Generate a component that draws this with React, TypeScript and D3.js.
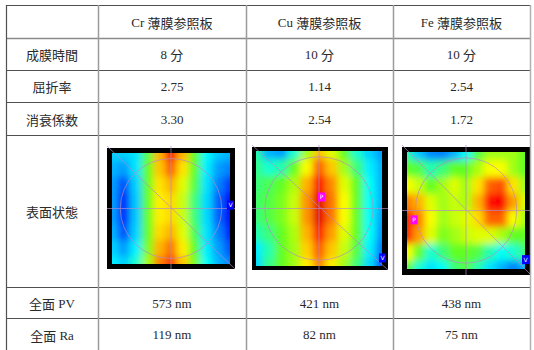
import * as d3 from 'd3';

// 表のデータ
const columnHeaders = ['Cr 薄膜参照板', 'Cu 薄膜参照板', 'Fe 薄膜参照板'];
const rowLabels = ['成膜時間', '屈折率', '消衰係数', '表面状態', '全面 PV', '全面 Ra'];
const filmTimes = ['8 分', '10 分', '10 分'];
const refractiveIdx = ['2.75', '1.14', '2.54'];
const extinction = ['3.30', '2.54', '1.72'];
const pvValues = ['573 nm', '421 nm', '438 nm'];
const raValues = ['119 nm', '82 nm', '75 nm'];

// 表面形状マップ (0 = 青 ... 1 = 赤), 上の行から
const crMap = [
  [0.33, 0.33, 0.35, 0.48, 0.7, 0.88, 0.7, 0.5, 0.37, 0.32, 0.3],
  [0.3, 0.28, 0.35, 0.5, 0.68, 0.78, 0.65, 0.5, 0.36, 0.28, 0.25],
  [0.28, 0.2, 0.33, 0.5, 0.65, 0.7, 0.6, 0.48, 0.35, 0.25, 0.18],
  [0.28, 0.16, 0.32, 0.5, 0.64, 0.66, 0.58, 0.45, 0.34, 0.22, 0.12],
  [0.28, 0.16, 0.32, 0.5, 0.64, 0.66, 0.58, 0.45, 0.34, 0.22, 0.12],
  [0.3, 0.2, 0.33, 0.5, 0.66, 0.7, 0.6, 0.47, 0.35, 0.25, 0.15],
  [0.33, 0.28, 0.36, 0.52, 0.7, 0.76, 0.64, 0.5, 0.36, 0.28, 0.2],
  [0.36, 0.33, 0.4, 0.55, 0.75, 0.82, 0.68, 0.52, 0.38, 0.3, 0.25],
];
const cuMap = [
  [0.42, 0.3, 0.28, 0.4, 0.55, 0.68, 0.6, 0.5, 0.4, 0.33, 0.28],
  [0.44, 0.4, 0.42, 0.5, 0.62, 0.78, 0.68, 0.55, 0.45, 0.36, 0.3],
  [0.45, 0.47, 0.5, 0.56, 0.7, 0.86, 0.74, 0.6, 0.5, 0.38, 0.3],
  [0.46, 0.48, 0.52, 0.58, 0.73, 0.9, 0.76, 0.62, 0.5, 0.38, 0.3],
  [0.45, 0.48, 0.52, 0.58, 0.73, 0.9, 0.76, 0.62, 0.5, 0.38, 0.28],
  [0.42, 0.45, 0.5, 0.56, 0.7, 0.85, 0.72, 0.6, 0.5, 0.38, 0.27],
  [0.36, 0.42, 0.5, 0.55, 0.67, 0.78, 0.68, 0.58, 0.48, 0.36, 0.24],
  [0.34, 0.44, 0.5, 0.55, 0.64, 0.74, 0.64, 0.55, 0.45, 0.34, 0.2],
];
const feMap = [
  [0.42, 0.32, 0.26, 0.25, 0.3, 0.38, 0.48, 0.55, 0.55, 0.55, 0.5],
  [0.5, 0.48, 0.42, 0.45, 0.5, 0.5, 0.56, 0.62, 0.62, 0.55, 0.5],
  [0.62, 0.58, 0.5, 0.55, 0.6, 0.55, 0.65, 0.78, 0.8, 0.65, 0.55],
  [0.75, 0.7, 0.6, 0.55, 0.58, 0.56, 0.7, 0.86, 0.88, 0.72, 0.6],
  [0.85, 0.75, 0.62, 0.55, 0.58, 0.6, 0.66, 0.78, 0.78, 0.62, 0.56],
  [0.85, 0.72, 0.6, 0.52, 0.55, 0.58, 0.6, 0.6, 0.56, 0.5, 0.5],
  [0.62, 0.5, 0.4, 0.45, 0.5, 0.5, 0.48, 0.42, 0.38, 0.4, 0.45],
  [0.5, 0.4, 0.35, 0.38, 0.45, 0.48, 0.42, 0.35, 0.3, 0.25, 0.3],
];
const maps = [crMap, cuMap, feMap];
// マーカー位置 (内側領域に対する比率)
const peakMarks: ([number, number] | null)[] = [null, [0.52, 0.4], [0.06, 0.58]];
const valleyMarks: [number, number][] = [[1.0, 0.47], [1.0, 0.93], [1.0, 0.92]];

// レイアウト
const colEdges = [6, 98, 246, 393, 530];
const rowEdges = [5, 38, 70, 102, 135, 287, 318, 352];
const frames = [
  { x: 107, y: 148, w: 128, h: 121, l: 5, t: 5, r: 5, b: 5 },
  { x: 252, y: 147, w: 136, h: 123, l: 4, t: 4, r: 6, b: 4 },
  { x: 402, y: 147, w: 129, h: 128, l: 5, t: 5, r: 6, b: 6 },
];

const jet = d3
  .scaleLinear<string>()
  .domain([0, 0.125, 0.375, 0.5, 0.625, 0.875, 1])
  .range(['#00008f', '#0000ff', '#00ffff', '#60ff20', '#ffff00', '#ff0000', '#800000'])
  .clamp(true);

const LATIN = 'Liberation Serif';
const CJK = 'Noto Sans CJK JP';
const TEXT = '#2a2a2a';

// ラテン文字と漢字を別々のフォントで描く
function MixedText({ x, y, s }: { x: number; y: number; s: string }) {
  const parts = s.match(/[\u3000-\u9fff]+|[^\u3000-\u9fff]+/g) || [];
  return (
    <text x={x} y={y} textAnchor="middle" dominantBaseline="central" fontSize={13} fill={TEXT}>
      {parts.map((p, i) => (
        <tspan key={i} fontFamily={/[\u3000-\u9fff]/.test(p) ? CJK : LATIN}>
          {p}
        </tspan>
      ))}
    </text>
  );
}

function HeatPanel({ idx }: { idx: number }) {
  const f = frames[idx];
  const grid = maps[idx];
  const ix = f.x + f.l;
  const iy = f.y + f.t;
  const iw = f.w - f.l - f.r;
  const ih = f.h - f.t - f.b;
  const nC = grid[0].length;
  const nR = grid.length;
  const xs = d3.scaleLinear().domain([0, nC - 1]).range([ix, ix + iw]);
  const ys = d3.scaleLinear().domain([0, nR - 1]).range([iy, iy + ih]);
  const sx = iw / (nC - 1);
  const sy = ih / (nR - 1);
  const pad = 20;
  const cx = ix + iw / 2;
  const cy = iy + ih / 2;
  const lineCol = '#b48cc8';
  const p = peakMarks[idx];
  const v = valleyMarks[idx];
  return (
    <g>
      <defs>
        <clipPath id={`clip${idx}`}>
          <rect x={ix} y={iy} width={iw} height={ih} />
        </clipPath>
      </defs>
      <rect x={f.x} y={f.y} width={f.w} height={f.h} fill="#000" />
      <g clipPath={`url(#clip${idx})`}>
        <g filter="url(#soft)">
          {grid.map((row, r) =>
            row.map((val, c) => {
              const x0 = c === 0 ? xs(c) - sx / 2 - pad : xs(c) - sx / 2;
              const x1 = c === nC - 1 ? xs(c) + sx / 2 + pad : xs(c) + sx / 2;
              const y0 = r === 0 ? ys(r) - sy / 2 - pad : ys(r) - sy / 2;
              const y1 = r === nR - 1 ? ys(r) + sy / 2 + pad : ys(r) + sy / 2;
              return (
                <rect
                  key={`${r}-${c}`}
                  x={x0}
                  y={y0}
                  width={x1 - x0 + 0.6}
                  height={y1 - y0 + 0.6}
                  fill={jet(val)}
                />
              );
            })
          )}
        </g>
      </g>
      <g stroke={lineCol} strokeWidth={0.8} fill="none" opacity={0.85}>
        <ellipse cx={cx} cy={cy} rx={iw * 0.43} ry={ih * 0.45} />
        <line x1={f.x} y1={cy} x2={f.x + f.w} y2={cy} />
        <line x1={cx} y1={f.y - 2} x2={cx} y2={f.y + f.h} />
        <line x1={f.x} y1={f.y - 2} x2={f.x + f.w} y2={f.y + f.h} />
      </g>
      {p && (
        <g>
          <rect x={ix + p[0] * iw - 3.5} y={iy + p[1] * ih - 4.5} width={7} height={9} fill="#ff00ff" />
          <text x={ix + p[0] * iw} y={iy + p[1] * ih + 2} fontSize={6} fill="#fff" textAnchor="middle" fontFamily="DejaVu Sans">P</text>
        </g>
      )}
      <g>
        <rect x={ix + v[0] * iw - 3} y={iy + v[1] * ih - 4.5} width={7} height={9} fill="#0000ff" />
        <text x={ix + v[0] * iw + 0.5} y={iy + v[1] * ih + 2} fontSize={6} fill="#fff" textAnchor="middle" fontFamily="DejaVu Sans">V</text>
      </g>
    </g>
  );
}

export default function App() {
  const textRows = [filmTimes, refractiveIdx, extinction, null, pvValues, raValues];
  const rowMid = (i: number) => (rowEdges[i] + rowEdges[i + 1]) / 2;
  const colMid = (i: number) => (colEdges[i] + colEdges[i + 1]) / 2;
  return (
    <div style={{ position: 'fixed', left: 0, top: 0 }}>
      <svg width={534} height={350} style={{ display: 'block', background: '#fff' }}>
        <defs>
          <filter id="soft" x="-20%" y="-20%" width="140%" height="140%">
            <feGaussianBlur stdDeviation={3.5} />
          </filter>
        </defs>

        {frames.map((_, i) => (
          <HeatPanel key={i} idx={i} />
        ))}

        {/* 罫線 */}
        {rowEdges.slice(0, -1).map((y, i) => (
          <line
            key={`h${i}`}
            x1={colEdges[0]}
            x2={colEdges[colEdges.length - 1]}
            y1={y + 0.5}
            y2={y + 0.5}
            stroke={i === 1 ? '#8a8a8a' : '#505050'}
            strokeWidth={i === 1 ? 1.6 : 1}
          />
        ))}
        {colEdges.map((x, i) => (
          <line
            key={`v${i}`}
            x1={x + 0.5}
            x2={x + 0.5}
            y1={rowEdges[0]}
            y2={350}
            stroke={i === 0 ? '#505050' : i === colEdges.length - 1 ? '#b0b0b0' : '#9a9a9a'}
            strokeWidth={i === 0 ? 1.2 : 1.5}
          />
        ))}

        {columnHeaders.map((h, i) => (
          <MixedText key={h} x={colMid(i + 1)} y={rowMid(0)} s={h} />
        ))}
        {rowLabels.map((l, i) => (
          <MixedText key={l} x={colMid(0)} y={rowMid(i + 1)} s={l} />
        ))}
        {textRows.map((vals, r) =>
          vals
            ? vals.map((v, c) => (
                <MixedText key={`${r}-${c}`} x={colMid(c + 1)} y={r === 5 ? 334 : rowMid(r + 1)} s={v} />
              ))
            : null
        )}
      </svg>
    </div>
  );
}
